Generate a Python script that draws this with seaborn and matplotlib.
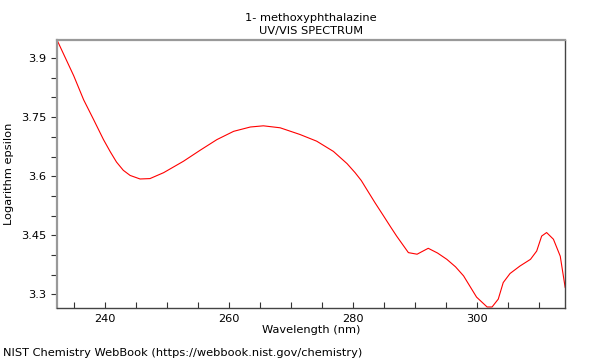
import matplotlib
matplotlib.use('Agg')
import matplotlib.pyplot as plt
from matplotlib.ticker import MultipleLocator
import seaborn as sns
import pandas as pd

# values
wavelength = [232.2, 234.9, 236.5, 238.1, 239.7, 240.8, 241.8, 242.9, 244.0, 245.6,
              247.2, 249.4, 252.6, 255.3, 258.0, 260.7, 263.4, 265.5, 268.2, 271.4,
              274.1, 276.8, 279.0, 280.3, 281.3, 282.2, 283.5, 284.9, 286.0, 287.0,
              288.9, 290.3, 292.1, 293.6, 295.1, 296.5, 297.8, 299.9, 301.6, 302.4,
              303.4, 304.2, 305.3, 306.9, 308.6, 309.6, 310.4, 311.2, 312.3, 313.4,
              314.2]
log_eps = [3.946, 3.855, 3.794, 3.744, 3.693, 3.662, 3.636, 3.615, 3.602, 3.593,
           3.594, 3.609, 3.638, 3.666, 3.693, 3.714, 3.725, 3.728, 3.723, 3.706,
           3.689, 3.663, 3.632, 3.609, 3.589, 3.566, 3.533, 3.499, 3.472, 3.448,
           3.406, 3.402, 3.417, 3.405, 3.389, 3.370, 3.347, 3.293, 3.268, 3.268,
           3.288, 3.330, 3.353, 3.372, 3.389, 3.410, 3.448, 3.457, 3.440, 3.397,
           3.317]

df = pd.DataFrame({'wavelength': wavelength, 'log_eps': log_eps})

sns.set_style("white")
plt.rcParams['font.family'] = ['DejaVu Sans']
plt.rcParams['text.color'] = 'black'
plt.rcParams['axes.labelcolor'] = 'black'
plt.rcParams['xtick.labelcolor'] = 'black'
plt.rcParams['ytick.labelcolor'] = 'black'
fs = 8.2

fig = plt.figure(figsize=(6, 3.6), dpi=100)
ax = fig.add_axes([0.095, 0.144, 0.847, 0.745])

sns.lineplot(data=df, x='wavelength', y='log_eps', color='red', linewidth=0.8, ax=ax)

ax.set_xlim(232.2, 314.2)
ax.set_ylim(3.265, 3.946)
ax.xaxis.set_major_locator(MultipleLocator(20))
ax.xaxis.set_minor_locator(MultipleLocator(5))
ax.yaxis.set_minor_locator(MultipleLocator(0.05))
ax.set_yticks([3.3, 3.45, 3.6, 3.75, 3.9])
ax.set_yticklabels(['3.3', '3.45', '3.6', '3.75', '3.9'])

ax.tick_params(axis='x', which='both', direction='in', length=4, width=0.8,
               labelsize=fs, color='#333333', labelcolor='black', bottom=True, pad=4)
ax.tick_params(axis='y', which='both', direction='out', length=4, width=0.8,
               labelsize=fs, color='#333333', labelcolor='black', left=True)

for side in ['top', 'left']:
    ax.spines[side].set_color('#999999')
    ax.spines[side].set_linewidth(1.6)
for side in ['bottom', 'right']:
    ax.spines[side].set_color('#444444')
    ax.spines[side].set_linewidth(1.0)

ax.set_xlabel('Wavelength (nm)', fontsize=fs, labelpad=1, color='black')
ax.set_ylabel('Logarithm epsilon', fontsize=fs, labelpad=5, color='black')
ax.set_title('1- methoxyphthalazine\nUV/VIS SPECTRUM', fontsize=fs, pad=4,
             linespacing=1.45, color='black')

fig.text(0.005, 0.012, 'NIST Chemistry WebBook (https://webbook.nist.gov/chemistry)',
         fontsize=fs, color='black')

fig.savefig('out.png', dpi=100)
